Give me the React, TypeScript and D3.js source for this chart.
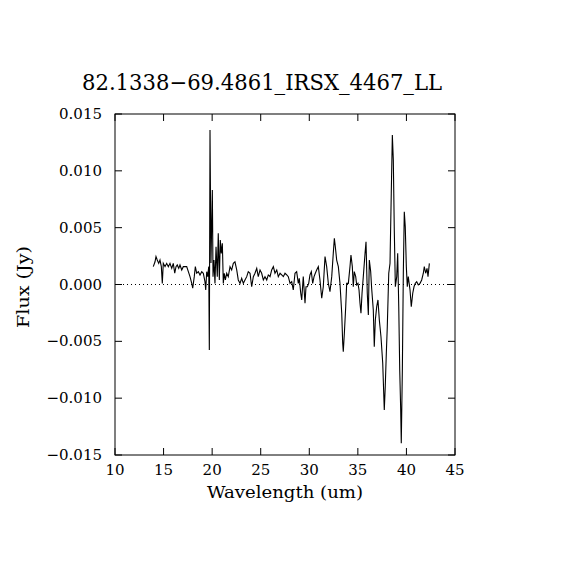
import React from 'react';
import * as d3 from 'd3';

const title = '82.1338\u221269.4861_IRSX_4467_LL';
const xTicks = [10, 15, 20, 25, 30, 35, 40, 45];
const yTicks = [-0.015, -0.01, -0.005, 0, 0.005, 0.01, 0.015];

// wavelength (um)
const wave = [
  13.94, 14.12, 14.22, 14.35, 14.5, 14.63, 14.77, 14.87, 14.97, 15.15, 15.32, 15.49, 15.66, 15.84,
  16.0, 16.15, 16.28, 16.41, 16.56, 16.69, 16.87, 17.03, 17.38, 17.72, 17.9, 18.0, 18.16, 18.27,
  18.41, 18.58, 18.75, 18.93, 19.09, 19.26, 19.34, 19.44, 19.54, 19.65, 19.71, 19.78, 19.88, 20.02,
  20.09, 20.19, 20.29, 20.4, 20.53, 20.63, 20.74, 20.84, 20.94, 21.05, 21.15, 21.25, 21.36, 21.5,
  21.66, 21.84, 22.01, 22.18, 22.35, 22.53, 22.69, 22.87, 23.04, 23.21, 23.38, 23.56, 23.72, 23.9,
  24.07, 24.24, 24.41, 24.59, 24.75, 24.93, 25.1, 25.27, 25.44, 25.62, 25.78, 25.96, 26.13, 26.3,
  26.47, 26.65, 26.81, 26.99, 27.16, 27.33, 27.5, 27.68, 27.84, 28.02, 28.19, 28.35, 28.53, 28.7,
  28.87, 28.97, 29.12, 29.22, 29.38, 29.56, 29.66, 29.8, 29.94, 30.07, 30.21, 30.35, 30.49, 30.62,
  30.76, 30.93, 31.1, 31.28, 31.44, 31.62, 31.79, 31.96, 32.13, 32.31, 32.47, 32.58, 32.68, 32.82,
  32.99, 33.16, 33.34, 33.44, 33.5, 33.61, 33.75, 33.85, 34.02, 34.19, 34.29, 34.43, 34.53, 34.63,
  34.78, 34.88, 35.01, 35.12, 35.22, 35.32, 35.43, 35.56, 35.74, 35.84, 35.97, 36.08, 36.18, 36.32,
  36.42, 36.59, 36.69, 36.8, 36.94, 37.07, 37.21, 37.38, 37.56, 37.72, 37.82, 37.93, 38.03, 38.18,
  38.31, 38.44, 38.55, 38.65, 38.75, 38.86, 39.0, 39.1, 39.21, 39.31, 39.41, 39.47, 39.58, 39.68,
  39.78, 39.88, 39.99, 40.09, 40.19, 40.37, 40.5, 40.65, 40.78, 40.91, 41.06, 41.22, 41.4, 41.57,
  41.74, 41.84, 41.98, 42.12, 42.22, 42.36,
];

// flux (Jy)
const flux = [
  0.00157, 0.002, 0.00245, 0.00215, 0.00186, 0.00215, 0.00157, 0.0001, 0.00186, 0.00157, 0.00186,
  0.00157, 0.00186, 0.00142, 0.00186, 0.00099, 0.00157, 0.00172, 0.00142, 0.00172, 0.00128, 0.00157,
  0.00157, 0.00069, 0.0001, -0.00033, 0.00069, 0.00157, 0.00099, 0.00113, 0.00084, 0.00113, 0.00099,
  0.00025, -0.00048, 0.00113, 0.00069, 0.00157, -0.00576, 0.01359, 0.00189, 0.00831, 0.00069, 0.00215,
  0.0001, 0.00332, 0.00069, 0.0045, 0.0004, 0.00391, 0.00274, 0.00362, 0.0001, 0.00099, 0.0004,
  0.00099, 0.00069, 0.00157, 0.00128, 0.00186, 0.002, 0.00128, 0.0004, 0.0001, 0.00055, 0.0001,
  0.0004, 0.00069, 0.00113, 0.00099, -0.0002, 0.00069, 0.00099, 0.00142, 0.00069, 0.00128, 0.00099,
  0.0004, 0.00069, 0.0004, 0.00084, 0.00069, 0.00128, 0.00157, 0.00099, 0.00128, 0.00069, 0.00099,
  0.00084, 0.00069, 0.00099, 0.00084, 0.00069, 0.0001, 0.00025, -0.00048, 0.00099, 0.00113, 0.0001,
  0.00055, -0.00077, -0.00136, 0.00069, -0.00165, -0.0002, -0.0002, 0.0001, 0.00084, 0.00113, 0.0001,
  0.00069, 0.00099, 0.00128, 0.00157, 0.0004, -0.00121, -0.0002, 0.00245, 0.00157, 0.0001, -0.00063,
  0.00069, 0.00274, 0.00406, 0.00332, 0.00215, 0.00157, 0.0001, -0.00253, -0.00517, -0.00591, -0.00429,
  -0.00195, 0.0001, 0.0001, 0.00157, 0.0026, 0.00157, -0.0002, 0.00113, 0.00069, -0.00004, 0.0001,
  -0.00048, -0.00165, -0.00253, -0.00077, 0.00069, 0.00274, 0.00376, -0.00077, -0.00268, 0.00215,
  0.00113, -0.00033, -0.00224, -0.00547, -0.00312, -0.00195, -0.00136, -0.00312, -0.00459, -0.00693,
  -0.01104, -0.00899, -0.00605, -0.00371, 0.00099, 0.00186, 0.00802, 0.01315, 0.01095, 0.00479,
  -0.0002, 0.00069, 0.00274, -0.00195, -0.00752, -0.01104, -0.01397, -0.00752, 0.00099, 0.0064,
  0.00508, 0.00157, -0.0002, 0.00069, -0.00048, -0.00195, -0.00077, -0.0002, 0.0001, 0.00025,
  -0.00004, 0.0001, 0.0004, 0.00099, 0.00157, 0.00099, 0.00142, 0.00069, 0.00186,
];

const font = "'DejaVu Serif', serif";

export default function App() {
  const left = 115;
  const right = 455;
  const top = 114;
  const bottom = 455;

  const x = d3.scaleLinear().domain([10, 45]).range([left, right]);
  const y = d3.scaleLinear().domain([-0.015, 0.015]).range([bottom, top]);

  const points = wave.map((w, i) => [w, flux[i]] as [number, number]);
  const line = d3
    .line<[number, number]>()
    .x((d) => x(d[0]))
    .y((d) => y(d[1]));

  const tickLen = 7;
  const fmtY = (v: number) => (v < 0 ? '\u2212' : '') + Math.abs(v).toFixed(3);

  return (
    <svg
      width={570}
      height={570}
      style={{ position: 'absolute', left: 0, top: 0, background: '#fff' }}
    >
      <text
        x={262}
        y={90}
        textAnchor="middle"
        fontFamily={font}
        fontSize={22}
        textLength={360}
        lengthAdjust="spacingAndGlyphs"
      >
        {title}
      </text>

      {/* zero line */}
      <line
        x1={left}
        x2={right}
        y1={y(0)}
        y2={y(0)}
        stroke="#000"
        strokeWidth={1}
        strokeDasharray="1 3"
      />

      <path d={line(points) ?? ''} fill="none" stroke="#000" strokeWidth={1.1} />

      <rect
        x={left}
        y={top}
        width={right - left}
        height={bottom - top}
        fill="none"
        stroke="#000"
        strokeWidth={1}
      />

      {xTicks.map((t) => (
        <g key={`x${t}`}>
          <line x1={x(t)} x2={x(t)} y1={bottom} y2={bottom - tickLen} stroke="#000" />
          <line x1={x(t)} x2={x(t)} y1={top} y2={top + tickLen} stroke="#000" />
          <text
            x={x(t)}
            y={475}
            textAnchor="middle"
            fontFamily={font}
            fontSize={15}
          >
            {t}
          </text>
        </g>
      ))}

      {yTicks.map((t) => (
        <g key={`y${t}`}>
          <line x1={left} x2={left + tickLen} y1={y(t)} y2={y(t)} stroke="#000" />
          <line x1={right} x2={right - tickLen} y1={y(t)} y2={y(t)} stroke="#000" />
          <text
            x={102}
            y={y(t) + 5}
            textAnchor="end"
            fontFamily={font}
            fontSize={15}
          >
            {fmtY(t)}
          </text>
        </g>
      ))}

      <text
        x={285}
        y={498}
        textAnchor="middle"
        fontFamily={font}
        fontSize={16}
        textLength={156}
        lengthAdjust="spacingAndGlyphs"
      >
        Wavelength (um)
      </text>
      <text
        transform={`translate(29, 287) rotate(-90)`}
        textAnchor="middle"
        fontFamily={font}
        fontSize={16}
        textLength={82}
        lengthAdjust="spacingAndGlyphs"
      >
        Flux (Jy)
      </text>
    </svg>
  );
}
